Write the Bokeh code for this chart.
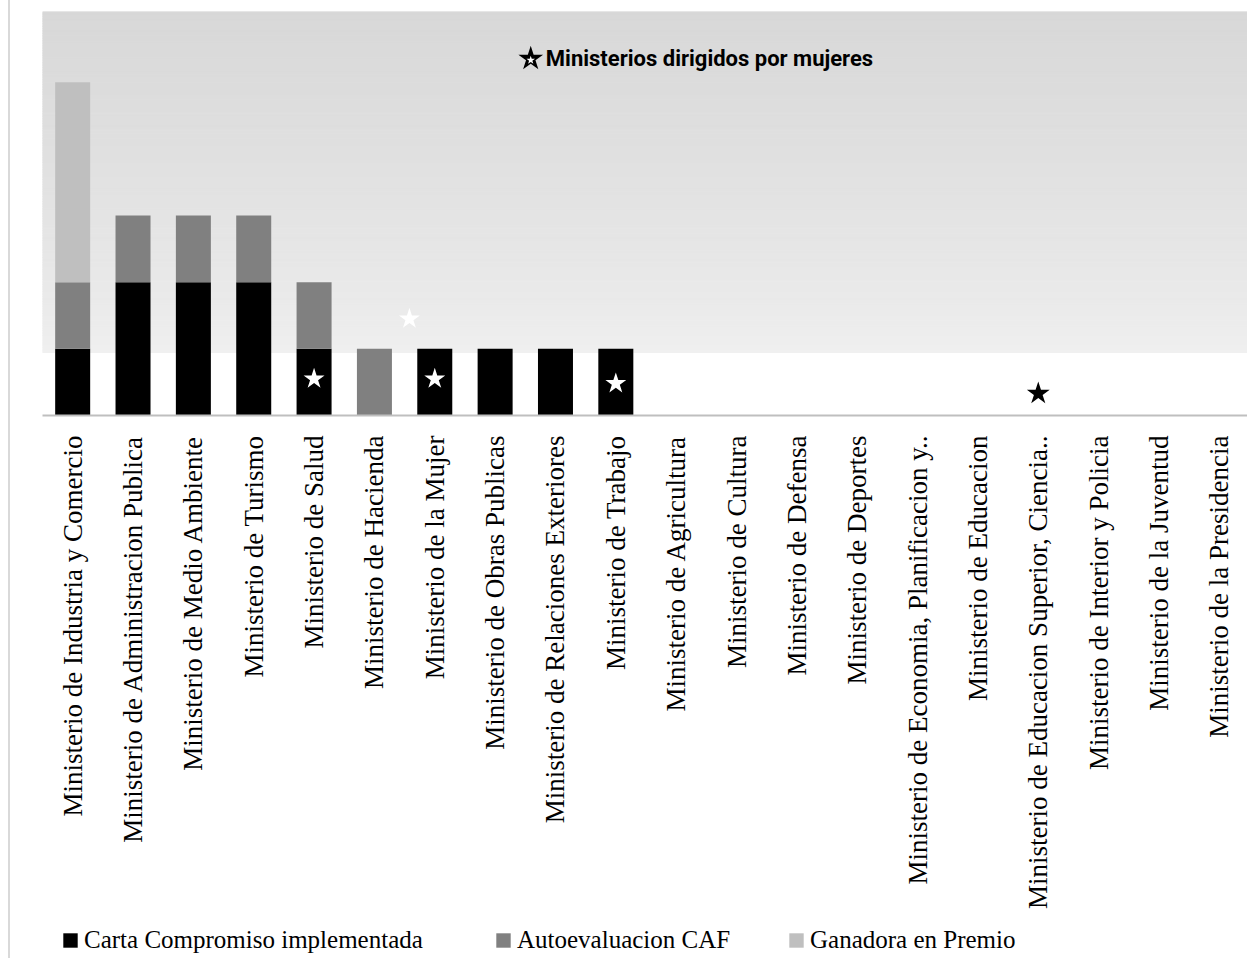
import numpy as np
from bokeh.plotting import figure
from bokeh.layouts import column
from bokeh.models import Range1d, FixedTicker, Legend, LegendItem, Label, ColumnDataSource
from bokeh.embed import file_html
from bokeh.resources import INLINE

# ---------------- data ----------------
ministerios = [
    "Ministerio de Industria y Comercio",
    "Ministerio de Administracion Publica",
    "Ministerio de Medio Ambiente",
    "Ministerio de Turismo",
    "Ministerio de Salud",
    "Ministerio de Hacienda",
    "Ministerio de la Mujer",
    "Ministerio de Obras Publicas",
    "Ministerio de Relaciones Exteriores",
    "Ministerio de Trabajo",
    "Ministerio de Agricultura",
    "Ministerio de Cultura",
    "Ministerio de Defensa",
    "Ministerio de Deportes",
    "Ministerio de Economia, Planificacion y..",
    "Ministerio de Educacion",
    "Ministerio de Educacion Superior, Ciencia..",
    "Ministerio de Interior y Policia",
    "Ministerio de la Juventud",
    "Ministerio de la Presidencia",
]
carta_compromiso = [1, 2, 2, 2, 1, 0, 1, 1, 1, 1, 0, 0, 0, 0, 0, 0, 0, 0, 0, 0]
autoevaluacion_caf = [1, 1, 1, 1, 1, 1, 0, 0, 0, 0, 0, 0, 0, 0, 0, 0, 0, 0, 0, 0]
ganadora_premio = [3, 0, 0, 0, 0, 0, 0, 0, 0, 0, 0, 0, 0, 0, 0, 0, 0, 0, 0, 0]
series = ["Carta Compromiso implementada", "Autoevaluacion CAF", "Ganadora en Premio"]

# star markers (ministries led by women), as category position / height
estrellas_blancas_x = [4, 6, 9, 5.58]
estrellas_blancas_y = [0.55, 0.55, 0.48, 1.45]
estrellas_negras_x = [16]
estrellas_negras_y = [0.33]
titulo_anotacion = "Ministerios dirigidos por mujeres"

COLORS = ["#000000", "#808080", "#bfbfbf"]
BORDER = {"margin-left": "8px", "border-left": "2px solid #d9d9d9"}
STACK = ["carta", "caf", "premio"]

src = ColumnDataSource(dict(x=list(range(len(ministerios))), carta=carta_compromiso,
                            caf=autoevaluacion_caf, premio=ganadora_premio))

# ---------------- main figure ----------------
X0, X1 = -0.5, 19.5
Y0, Y1 = 0.0, 6.06
p = figure(width=1239, height=918, x_range=Range1d(X0, X1), y_range=Range1d(Y0, Y1),
           output_backend="svg", toolbar_location=None,
           min_border_left=32, min_border_right=0, min_border_top=11, min_border_bottom=503,
           outline_line_color=None, background_fill_color="white", border_fill_color="white",
           styles=BORDER)

# gradient band behind the bars
GB = 0.945
n = 140
edges = np.linspace(GB, Y1, n + 1)
t = (0.5 * (edges[:-1] + edges[1:]) - GB) / (Y1 - GB)
g = 240 - (240 - 216) * t ** 0.75
cols = ["#%02x%02x%02x" % (int(round(v)), int(round(v)), int(round(v))) for v in g]
p.quad(left=X0, right=X1, bottom=edges[:-1], top=edges[1:], fill_color=cols, line_color=cols,
       line_width=1)

p.vbar_stack(STACK, x="x", width=0.58, color=COLORS, line_color=None, source=src)

p.scatter(estrellas_blancas_x, estrellas_blancas_y, marker="star", size=22,
          fill_color="white", line_color=None)
p.scatter(estrellas_negras_x, estrellas_negras_y, marker="star", size=24,
          fill_color="black", line_color=None)

# annotation title with star
p.scatter([7.59], [5.35], marker="star", size=26, fill_color="black", line_color=None)
p.scatter([7.59], [5.33], marker="star", size=9, fill_color="white", line_color=None)
p.add_layout(Label(x=7.84, y=5.35, text=titulo_anotacion, text_font="Roboto",
                   text_font_style="bold", text_font_size="22px", text_baseline="middle",
                   text_color="black"))

# axes
p.yaxis.visible = False
p.xgrid.visible = False
p.ygrid.visible = False
ax = p.xaxis[0]
ax.ticker = FixedTicker(ticks=list(range(len(ministerios))))
ax.major_label_overrides = {i: m for i, m in enumerate(ministerios)}
ax.major_label_orientation = np.pi / 2
ax.major_tick_line_color = None
ax.minor_tick_line_color = None
ax.axis_line_color = "#bfbfbf"
ax.axis_line_width = 2
ax.major_label_standoff = 14
ax.major_label_text_font = "Liberation Serif"
ax.major_label_text_font_size = "27px"
ax.major_label_text_color = "black"

# ---------------- legend strip (same series, kept out of view) ----------------
q = figure(width=1239, height=40, x_range=Range1d(X0, X1), y_range=Range1d(100, 101),
           output_backend="svg", toolbar_location=None,
           min_border_left=32, min_border_right=0, min_border_top=0, min_border_bottom=0,
           outline_line_color=None, background_fill_color="white", border_fill_color="white",
           styles=BORDER)
q.axis.visible = False
q.grid.visible = False
rq = q.vbar_stack(STACK, x="x", width=0.58, color=COLORS, line_color=None, source=src)
leg_x = [19, 452, 745]
for r, name, lx in zip(rq, series, leg_x):
    lg = Legend(items=[LegendItem(label=name, renderers=[r])], location=(lx, 4),
                orientation="horizontal", glyph_width=18, glyph_height=18, label_standoff=5,
                padding=0, margin=0, border_line_color=None, background_fill_alpha=0,
                label_text_font="Liberation Serif", label_text_font_size="25px",
                label_text_color="black")
    q.add_layout(lg)

layout = column(p, q, spacing=0)
open("out.html", "w").write(file_html(layout, INLINE))
